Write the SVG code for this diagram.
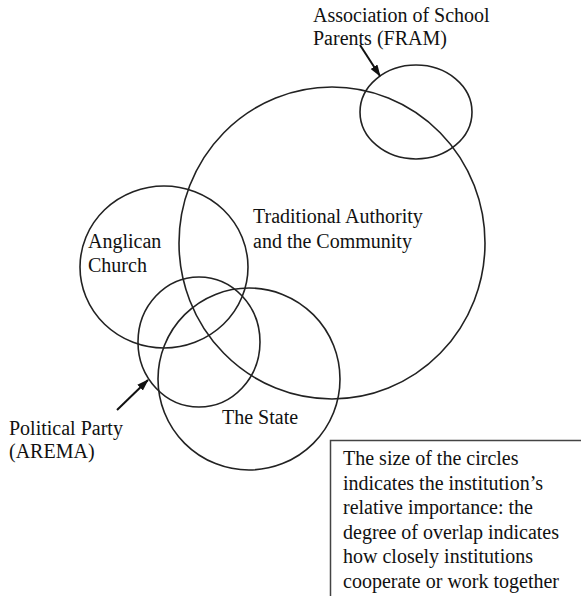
<svg xmlns="http://www.w3.org/2000/svg" width="581" height="596" viewBox="0 0 581 596">
<defs>
<style>
.c{fill:none;stroke:#222;stroke-width:1.6}
.t{font-family:"Liberation Serif","Times New Roman",serif;font-size:20px;fill:#111}
.a{stroke:#111;stroke-width:2;fill:none}
</style>
<marker id="ah" viewBox="0 0 12 10" refX="11" refY="5" markerWidth="6" markerHeight="5" orient="auto" markerUnits="strokeWidth">
<path d="M0,1 L12,5 L0,9 z" fill="#111"/>
</marker>
</defs>
<rect width="581" height="596" fill="#fff"/>
<g id="traditional">
<ellipse class="c" cx="332" cy="243" rx="153" ry="156"/>
<text class="t" x="253" y="223">Traditional Authority</text>
<text class="t" x="253" y="248">and the Community</text>
</g>
<g id="fram">
<ellipse class="c" cx="416" cy="112" rx="56" ry="47"/>
<text class="t" x="313" y="22">Association of School</text>
<text class="t" x="313" y="45">Parents (FRAM)</text>
</g>
<g id="anglican">
<ellipse class="c" cx="164" cy="267" rx="84" ry="81"/>
<text class="t" x="88" y="248">Anglican</text>
<text class="t" x="88" y="272">Church</text>
</g>
<g id="party">
<ellipse class="c" cx="199" cy="342" rx="61" ry="65"/>
<text class="t" x="9" y="435">Political Party</text>
<text class="t" x="9" y="458">(AREMA)</text>
</g>
<g id="state">
<ellipse class="c" cx="249" cy="379" rx="91" ry="91"/>
<text class="t" x="222" y="424">The State</text>
</g>
<g id="connectors">
<line class="a" x1="360" y1="45" x2="380" y2="76" marker-end="url(#ah)"/>
<line class="a" x1="117" y1="410" x2="148" y2="380" marker-end="url(#ah)"/>
</g>
<g id="legend">
<rect x="330.5" y="440.5" width="260" height="200" fill="#fff" stroke="#444" stroke-width="1.5"/>
<text class="t" x="343" y="465">The size of the circles</text>
<text class="t" x="343" y="489.5">indicates the institution’s</text>
<text class="t" x="343" y="514">relative importance: the</text>
<text class="t" x="343" y="538.5">degree of overlap indicates</text>
<text class="t" x="343" y="563">how closely institutions</text>
<text class="t" x="343" y="587.5">cooperate or work together</text>
</g>
</svg>
